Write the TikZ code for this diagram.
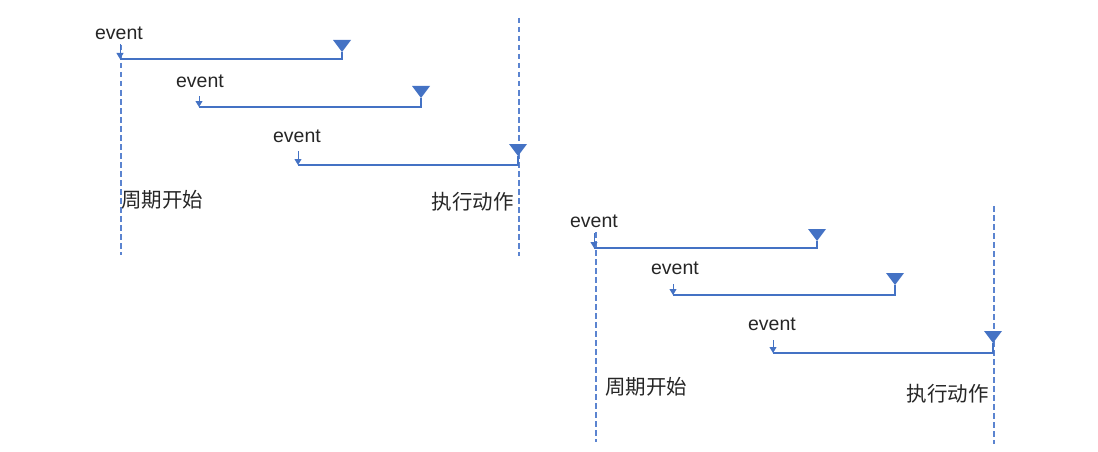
\documentclass[tikz,border=0pt]{standalone}
\usepackage{fontspec}
\setmainfont{Liberation Sans}
\newfontfamily\cjk{Noto Sans CJK SC}
\usetikzlibrary{arrows.meta}
\definecolor{lineblue}{HTML}{4472C4}
\definecolor{dashblue}{HTML}{5B84D0}
\begin{document}
\begin{tikzpicture}[x=1pt,y=-1pt,
  conn/.style={draw=lineblue,line width=1.3pt},
  evarrow/.style={draw=lineblue,line width=1pt,-{Triangle[length=6pt,width=7pt]}},
  guide/.style={draw=dashblue,line width=1.2pt,dash pattern=on 5.5pt off 3.5pt},
  evlabel/.style={font=\fontsize{19.5}{22}\selectfont,text=black!85,inner sep=0},
  cnlabel/.style={font=\cjk\fontsize{20.5}{24}\selectfont,text=black!85,inner sep=0},
  tri/.style={fill=lineblue}]
\useasboundingbox (0,0) rectangle (1098,452);
% ---------- group 1 ----------
\draw[guide] (121,45) -- (121,255);
\draw[guide] (519,18) -- (519,256);
\node[evlabel] (e1) at (119,33) {event};
\coordinate (a1) at (120,44); \coordinate (b1) at (120,59); \coordinate (t1) at (342,52);
\draw[evarrow] (a1) -- (b1);
\draw[conn] (b1) -| (t1);
\fill[tri] (t1) -- ++(-9,-12) -- ++(18,0) -- cycle;
\node[evlabel] (e2) at (200,81) {event};
\coordinate (a2) at (199,96); \coordinate (b2) at (199,107); \coordinate (t2) at (421,98);
\draw[evarrow] (a2) -- (b2);
\draw[conn] (b2) -| (t2);
\fill[tri] (t2) -- ++(-9,-12) -- ++(18,0) -- cycle;
\node[evlabel] (e3) at (297,136) {event};
\coordinate (a3) at (298,151); \coordinate (b3) at (298,165); \coordinate (t3) at (518,156);
\draw[evarrow] (a3) -- (b3);
\draw[conn] (b3) -| (t3);
\fill[tri] (t3) -- ++(-9,-12) -- ++(18,0) -- cycle;
\node[cnlabel,anchor=west] (s1) at (121,200) {周期开始};
\node[cnlabel,anchor=east] (x1) at (514,202) {执行动作};
% ---------- group 2 ----------
\draw[guide] (596,232) -- (596,442);
\draw[guide] (994,206) -- (994,444);
\node[evlabel] (f1) at (594,221) {event};
\coordinate (c1) at (594,233); \coordinate (d1) at (594,248); \coordinate (u1) at (817,241);
\draw[evarrow] (c1) -- (d1);
\draw[conn] (d1) -| (u1);
\fill[tri] (u1) -- ++(-9,-12) -- ++(18,0) -- cycle;
\node[evlabel] (f2) at (675,268) {event};
\coordinate (c2) at (673,284); \coordinate (d2) at (673,295); \coordinate (u2) at (895,285);
\draw[evarrow] (c2) -- (d2);
\draw[conn] (d2) -| (u2);
\fill[tri] (u2) -- ++(-9,-12) -- ++(18,0) -- cycle;
\node[evlabel] (f3) at (772,324) {event};
\coordinate (c3) at (773,340); \coordinate (d3) at (773,353); \coordinate (u3) at (993,343);
\draw[evarrow] (c3) -- (d3);
\draw[conn] (d3) -| (u3);
\fill[tri] (u3) -- ++(-9,-12) -- ++(18,0) -- cycle;
\node[cnlabel,anchor=west] (s2) at (605,387) {周期开始};
\node[cnlabel,anchor=east] (x2) at (989,394) {执行动作};
\end{tikzpicture}
\end{document}
